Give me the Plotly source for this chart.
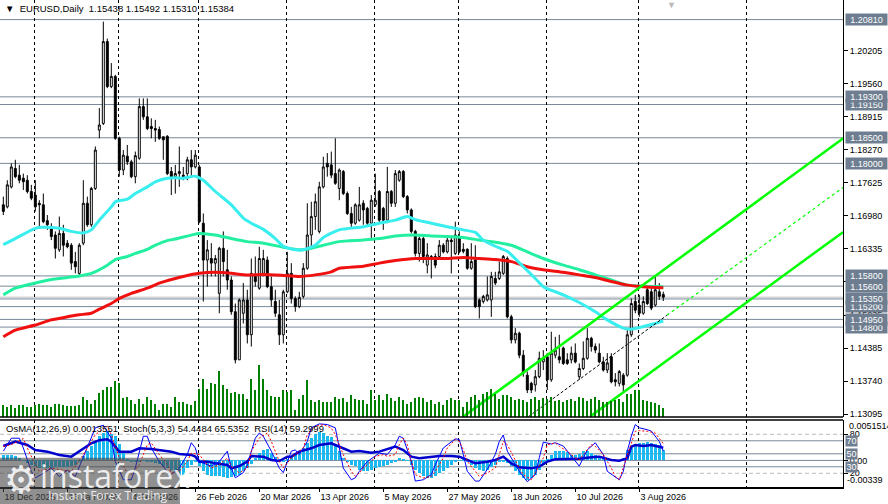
import pandas as pd
import plotly.graph_objects as go

# daily bars (days without a bar are left out)
dates = pd.bdate_range("2025-12-18", "2026-08-11", freq="C",
                       holidays=["2025-12-25", "2026-01-01", "2026-04-03"])
bars = list(range(len(dates)))

opens = [
    1.1719, 1.1715, 1.1754, 1.1790, 1.1777, 1.1771, 1.1767, 1.1745, 1.1738, 1.1722,
    1.1719, 1.1688, 1.1673, 1.1660, 1.1631, 1.1663, 1.1644, 1.1640, 1.1608, 1.1585,
    1.1644, 1.1722, 1.1680, 1.1751, 1.1865, 1.1878, 1.2038, 1.1950, 1.1970, 1.1849,
    1.1787, 1.1814, 1.1803, 1.1774, 1.1810, 1.1911, 1.1891, 1.1872, 1.1868, 1.1866,
    1.1852, 1.1853, 1.1784, 1.1774, 1.1780, 1.1777, 1.1780, 1.1807, 1.1793, 1.1793,
    1.1683, 1.1611, 1.1614, 1.1605, 1.1546, 1.1634, 1.1592, 1.1572, 1.1510, 1.1416,
    1.1507, 1.1533, 1.1465, 1.1579, 1.1556, 1.1585, 1.1611, 1.1559, 1.1530, 1.1504,
    1.1465, 1.1549, 1.1585, 1.1536, 1.1520, 1.1540, 1.1595, 1.1660, 1.1696, 1.1667,
    1.1754, 1.1800, 1.1797, 1.1780, 1.1751, 1.1784, 1.1741, 1.1702, 1.1683, 1.1689,
    1.1722, 1.1712, 1.1683, 1.1719, 1.1745, 1.1712, 1.1689, 1.1745, 1.1722, 1.1767,
    1.1784, 1.1735, 1.1709, 1.1667, 1.1624, 1.1653, 1.1601, 1.1618, 1.1618, 1.1618,
    1.1640, 1.1627, 1.1650, 1.1624, 1.1657, 1.1632, 1.1632, 1.1595, 1.1611, 1.1533,
    1.1530, 1.1533, 1.1533, 1.1575, 1.1575, 1.1585, 1.1614, 1.1500, 1.1455, 1.1468,
    1.1425, 1.1386, 1.1370, 1.1367, 1.1383, 1.1412, 1.1422, 1.1377, 1.1425, 1.1422,
    1.1439, 1.1416, 1.1416, 1.1429, 1.1383, 1.1399, 1.1419, 1.1458, 1.1442, 1.1429,
    1.1412, 1.1396, 1.1422, 1.1377, 1.1370, 1.1386, 1.1386, 1.1465, 1.1530, 1.1523,
    1.1507, 1.1553, 1.1549, 1.1523, 1.1549, 1.15438,
]
highs = [
    1.1735, 1.1767, 1.1800, 1.1807, 1.1797, 1.1780, 1.1777, 1.1758, 1.1767, 1.1728,
    1.1741, 1.1699, 1.1683, 1.1667, 1.1696, 1.1680, 1.1650, 1.1644, 1.1627, 1.1644,
    1.1767, 1.1735, 1.1754, 1.1833, 1.1908, 1.2077, 1.2044, 1.1996, 1.1973, 1.1852,
    1.1826, 1.1836, 1.1807, 1.1823, 1.1927, 1.1927, 1.1927, 1.1888, 1.1885, 1.1872,
    1.1852, 1.1855, 1.1793, 1.1797, 1.1833, 1.1793, 1.1813, 1.1826, 1.1826, 1.1797,
    1.1702, 1.1650, 1.1644, 1.1621, 1.1637, 1.1667, 1.1631, 1.1579, 1.1526, 1.1536,
    1.1566, 1.1553, 1.1614, 1.1618, 1.1637, 1.1631, 1.1618, 1.1579, 1.1553, 1.1533,
    1.1553, 1.1627, 1.1605, 1.1540, 1.1549, 1.1605, 1.1722, 1.1725, 1.1741, 1.1764,
    1.1813, 1.1820, 1.1823, 1.1849, 1.1790, 1.1787, 1.1745, 1.1715, 1.1722, 1.1754,
    1.1728, 1.1715, 1.1738, 1.1780, 1.1748, 1.1715, 1.1793, 1.1748, 1.1787, 1.1787,
    1.1787, 1.1738, 1.1712, 1.1670, 1.1657, 1.1657, 1.1644, 1.1621, 1.1624, 1.1650,
    1.1644, 1.1657, 1.1657, 1.1686, 1.1667, 1.1644, 1.1634, 1.1644, 1.1640, 1.1536,
    1.1543, 1.1579, 1.1588, 1.1588, 1.1608, 1.1621, 1.1618, 1.1504, 1.1478, 1.1471,
    1.1435, 1.1393, 1.1373, 1.1396, 1.1432, 1.1435, 1.1429, 1.1471, 1.1461, 1.1465,
    1.1442, 1.1429, 1.1442, 1.1448, 1.1409, 1.1452, 1.1478, 1.1461, 1.1448, 1.1448,
    1.1422, 1.1429, 1.1429, 1.1390, 1.1396, 1.1390, 1.1474, 1.1536, 1.1543, 1.1543,
    1.1540, 1.1562, 1.1556, 1.1579, 1.1566, 1.15492,
]
lows = [
    1.1699, 1.1712, 1.1751, 1.1771, 1.1761, 1.1748, 1.1741, 1.1728, 1.1706, 1.1676,
    1.1683, 1.1670, 1.1650, 1.1614, 1.1627, 1.1618, 1.1634, 1.1592, 1.1585, 1.1579,
    1.1640, 1.1676, 1.1676, 1.1748, 1.1849, 1.1875, 1.1947, 1.1947, 1.1846, 1.1774,
    1.1777, 1.1797, 1.1771, 1.1761, 1.1807, 1.1885, 1.1865, 1.1849, 1.1842, 1.1846,
    1.1807, 1.1777, 1.1738, 1.1741, 1.1754, 1.1767, 1.1767, 1.1774, 1.1790, 1.1683,
    1.1530, 1.1559, 1.1579, 1.1579, 1.1507, 1.1579, 1.1553, 1.1504, 1.1409, 1.1416,
    1.1487, 1.1448, 1.1442, 1.1559, 1.1553, 1.1579, 1.1556, 1.1520, 1.1500, 1.1445,
    1.1448, 1.1546, 1.1526, 1.1510, 1.1517, 1.1536, 1.1592, 1.1637, 1.1670, 1.1663,
    1.1751, 1.1774, 1.1771, 1.1758, 1.1728, 1.1738, 1.1699, 1.1676, 1.1680, 1.1686,
    1.1680, 1.1676, 1.1653, 1.1715, 1.1683, 1.1670, 1.1683, 1.1715, 1.1715, 1.1764,
    1.1732, 1.1702, 1.1663, 1.1618, 1.1608, 1.1605, 1.1585, 1.1575, 1.1595, 1.1614,
    1.1624, 1.1624, 1.1585, 1.1621, 1.1624, 1.1624, 1.1592, 1.1592, 1.1517, 1.1497,
    1.1526, 1.1530, 1.1500, 1.1562, 1.1572, 1.1582, 1.1497, 1.1448, 1.1448, 1.1419,
    1.1383, 1.1351, 1.1351, 1.1354, 1.1380, 1.1396, 1.1357, 1.1373, 1.1419, 1.1409,
    1.1406, 1.1406, 1.1409, 1.1409, 1.1377, 1.1396, 1.1416, 1.1432, 1.1429, 1.1409,
    1.1393, 1.1390, 1.1370, 1.1364, 1.1364, 1.1354, 1.1383, 1.1461, 1.1507, 1.1500,
    1.1504, 1.1523, 1.1513, 1.1520, 1.1533, 1.15310,
]
closes = [
    1.1706, 1.1758, 1.1793, 1.1774, 1.1767, 1.1764, 1.1745, 1.1732, 1.1715, 1.1719,
    1.1686, 1.1680, 1.1657, 1.1634, 1.1663, 1.1640, 1.1637, 1.1605, 1.1598, 1.1640,
    1.1722, 1.1680, 1.1751, 1.1826, 1.1875, 1.2038, 1.1950, 1.1970, 1.1849, 1.1787,
    1.1816, 1.1803, 1.1774, 1.1815, 1.1911, 1.1891, 1.1868, 1.1868, 1.1865, 1.1849,
    1.1846, 1.1780, 1.1774, 1.1780, 1.1784, 1.1774, 1.1807, 1.1793, 1.1816, 1.1686,
    1.1611, 1.1631, 1.1605, 1.1614, 1.1634, 1.1608, 1.1572, 1.1510, 1.1416, 1.1533,
    1.1533, 1.1465, 1.1585, 1.1569, 1.1614, 1.1614, 1.1559, 1.1533, 1.1507, 1.1465,
    1.1549, 1.1585, 1.1536, 1.1520, 1.1538, 1.1595, 1.1660, 1.1696, 1.1725, 1.1754,
    1.1793, 1.1793, 1.1777, 1.1761, 1.1787, 1.1741, 1.1702, 1.1683, 1.1719, 1.1719,
    1.1709, 1.1683, 1.1728, 1.1728, 1.1689, 1.1689, 1.1745, 1.1722, 1.1780, 1.1784,
    1.1735, 1.1709, 1.1667, 1.1624, 1.1653, 1.1618, 1.1621, 1.1614, 1.1601, 1.1640,
    1.1627, 1.1650, 1.1647, 1.1660, 1.1627, 1.1628, 1.1595, 1.1608, 1.1520, 1.1520,
    1.1540, 1.1543, 1.1579, 1.1566, 1.1588, 1.1618, 1.1500, 1.1455, 1.1468, 1.1425,
    1.1390, 1.1357, 1.1357, 1.1383, 1.1419, 1.1419, 1.1377, 1.1429, 1.1435, 1.1416,
    1.1409, 1.1409, 1.1429, 1.1412, 1.1399, 1.1419, 1.1458, 1.1442, 1.1435, 1.1412,
    1.1396, 1.1410, 1.1373, 1.1373, 1.1393, 1.1367, 1.1465, 1.1526, 1.1513, 1.1507,
    1.1530, 1.1526, 1.1517, 1.1553, 1.1540, 1.15384,
]
volumes = [
    3500, 3000, 3500, 2800, 3500, 3500, 3000, 3000, 3500, 4000,
    3500, 3500, 3000, 4000, 3800, 3500, 3200, 3200, 3200, 3500,
    6000, 5000, 4000, 5000, 7200, 8000, 9000, 9000, 10800, 10200,
    5800, 6000, 5200, 4000, 5500, 4000, 6000, 5000, 4000, 2000,
    4000, 4000, 3000, 6000, 4500, 4500, 4000, 3500, 4800, 8500,
    11500, 8500, 10200, 10000, 13800, 9500, 8500, 7200, 7500, 7000,
    6800, 5500, 11500, 8000, 15500, 11500, 8000, 6200, 6000, 6000,
    8200, 7500, 8000, 2000, 5500, 6500, 11200, 5000, 4500, 5200,
    4500, 4500, 4500, 6000, 5500, 5800, 4500, 6500, 5500, 5000,
    5200, 3800, 8200, 5200, 6500, 5200, 7000, 5800, 4800, 6000,
    5000, 4000, 4500, 5800, 6000, 5800, 4500, 5000, 4000, 4500,
    3500, 5000, 5800, 5000, 5200, 3000, 4500, 6000, 6500, 5000,
    7000, 7500, 8500, 7000, 5500, 6500, 6500, 6000, 5000, 5500,
    5000, 4500, 5500, 6000, 5000, 5800, 5500, 6000, 4800, 5200,
    4500, 5000, 5500, 4800, 6000, 5800, 4800, 5500, 6000, 5200,
    4500, 4500, 4800, 5000, 5500, 4500, 7000, 7000, 8000, 8000,
    5200, 4800, 4500, 4200, 3500, 2800,
]

# moving averages, read at sample bars
ma_fast_x = [0, 3, 8, 10, 14, 17, 20, 22, 24, 27, 28, 31, 33, 36, 38, 41, 43, 45, 48, 50,
             53, 57, 60, 62, 65, 68, 70, 73, 75, 78, 80, 84, 90, 94, 98, 101, 103, 107, 111, 115,
             118, 120, 123, 126, 130, 133, 135, 140, 144, 148, 151, 155, 157, 160, 162, 165]
ma_fast = [1.1641, 1.1653, 1.1673, 1.1675, 1.1673, 1.1667, 1.1664, 1.1670, 1.1689, 1.1715,
           1.1725, 1.1730, 1.1741, 1.1754, 1.1764, 1.1771, 1.1772, 1.1771, 1.1775, 1.1767,
           1.1745, 1.1719, 1.1693, 1.1683, 1.1671, 1.1653, 1.1638, 1.1631, 1.1631, 1.1640,
           1.1655, 1.1670, 1.1676, 1.1683, 1.1689, 1.1696, 1.1690, 1.1683, 1.1676, 1.1670,
           1.1665, 1.1650, 1.1638, 1.1628, 1.1598, 1.1575, 1.1559, 1.1543, 1.1528, 1.1510,
           1.1494, 1.1478, 1.1476, 1.1481, 1.1485, 1.1492]
ma_mid_x = [0, 3, 8, 12, 16, 19, 22, 26, 28, 31, 33, 36, 38, 41, 43, 49, 53, 57, 61, 65,
            70, 74, 77, 80, 84, 90, 94, 98, 103, 107, 111, 115, 119, 123, 127, 131, 135, 140, 144, 148,
            152, 156, 160, 165]
ma_mid = [1.1543, 1.1556, 1.1566, 1.1573, 1.1577, 1.1580, 1.1585, 1.1601, 1.1612, 1.1618,
          1.1624, 1.1632, 1.1640, 1.1649, 1.1652, 1.1663, 1.1660, 1.1653, 1.1647, 1.1644,
          1.1636, 1.1631, 1.1634, 1.1640, 1.1647, 1.1650, 1.1653, 1.1658, 1.1660, 1.1658,
          1.1657, 1.1655, 1.1650, 1.1646, 1.1640, 1.1627, 1.1614, 1.1601, 1.1592, 1.1582,
          1.1572, 1.1562, 1.1560, 1.1559]
ma_slow_x = [0, 3, 8, 12, 16, 19, 22, 24, 27, 29, 32, 36, 39, 43, 45, 49, 53, 57, 61, 65,
             70, 74, 78, 82, 84, 90, 94, 98, 103, 107, 111, 115, 119, 123, 127, 131, 135, 140, 144, 148,
             152, 156, 160, 165]
ma_slow = [1.1461, 1.1474, 1.1484, 1.1494, 1.1500, 1.1504, 1.1507, 1.1515, 1.1526, 1.1536,
           1.1546, 1.1556, 1.1566, 1.1575, 1.1579, 1.1585, 1.1587, 1.1585, 1.1582, 1.1583,
           1.1581, 1.1579, 1.1582, 1.1588, 1.1595, 1.1599, 1.1605, 1.1610, 1.1614, 1.1614,
           1.1614, 1.1616, 1.1614, 1.1612, 1.1608, 1.1598, 1.1592, 1.1587, 1.1582, 1.1577,
           1.1569, 1.1562, 1.1559, 1.1557]

# channel lines (trend-line anchor points)
chan_upper_x, chan_upper = [115, 210], [1.1305, 1.1849]
chan_lower_x, chan_lower = [146.7, 210], [1.1305, 1.1666]
chan_mid_x, chan_mid = [131.3, 165.9], [1.1305, 1.1503]
chan_mid_ext_x, chan_mid_ext = [165.9, 210], [1.1503, 1.1753]

# indicator window
osma = [
    0.00075, 0.00067, 0.00067, 0.00054, 0.00032, -0.00002, -0.00032, -0.00054, -0.00075, -0.00097,
    -0.00097, -0.00097, -0.00097, -0.00088, -0.00088, -0.00088, -0.00088, -0.00075, -0.00054, -0.00011,
    0.00054, 0.00119, 0.00183, 0.00248, 0.00313, 0.00356, 0.00377, 0.00334, 0.00313, 0.00205,
    0.00097, 0.00011, -0.00011, -0.00019, -0.00011, -0.00002, -0.00011, -0.00019, -0.00032, -0.00045,
    -0.00075, -0.00097, -0.00119, -0.00140, -0.00205, -0.00192, -0.00097, -0.00054, -0.00019, -0.00075,
    -0.00140, -0.00183, -0.00205, -0.00205, -0.00205, -0.00218, -0.00226, -0.00218, -0.00205, -0.00183,
    -0.00140, -0.00097, -0.00045, 0.00032, 0.00097, 0.00140, 0.00153, 0.00097, 0.00041, 0.00011,
    -0.00011, 0.00011, 0.00054, 0.00097, 0.00119, 0.00162, 0.00226, 0.00291, 0.00343, 0.00369,
    0.00356, 0.00313, 0.00300, 0.00205, 0.00119, 0.00032, -0.00011, -0.00054, -0.00075, -0.00119,
    -0.00140, -0.00140, -0.00119, -0.00097, -0.00088, -0.00075, -0.00054, -0.00032, -0.00011, 0.00032,
    0.00024, -0.00002, -0.00054, -0.00119, -0.00162, -0.00205, -0.00226, -0.00226, -0.00205, -0.00162,
    -0.00140, -0.00097, -0.00054, -0.00011, -0.00002, 0.00011, -0.00011, -0.00054, -0.00097, -0.00119,
    -0.00132, -0.00119, -0.00088, -0.00054, -0.00019, -0.00011, -0.00032, -0.00075, -0.00140, -0.00183,
    -0.00226, -0.00248, -0.00226, -0.00183, -0.00119, -0.00054, 0.00011, 0.00075, 0.00119, 0.00127,
    0.00119, 0.00110, 0.00075, 0.00067, 0.00084, 0.00119, 0.00119, 0.00097, 0.00067, 0.00041,
    0.00032, 0.00011, 0.00011, -0.00002, -0.00002, 0.00032, 0.00140, 0.00183, 0.00205, 0.00226,
    0.00226, 0.00239, 0.00226, 0.00213, 0.00196, 0.00136,
]
rsi_x = [0, 2, 3, 6, 8, 11, 14, 17, 19, 21, 22, 24, 26, 27, 29, 32, 34, 37, 39, 42,
         44, 47, 48, 49, 51, 53, 56, 57, 59, 61, 62, 65, 67, 69, 71, 72, 74, 77, 79, 82,
         83, 85, 87, 89, 92, 94, 96, 98, 100, 102, 104, 107, 109, 112, 114, 116, 118, 121, 123, 125,
         127, 129, 132, 134, 136, 138, 141, 144, 147, 149, 152, 154, 156, 157, 158, 160, 162, 164, 165]
rsi = [62, 66.1, 68.7, 63.5, 55.8, 53.3, 48.2, 45.6, 53.3, 61, 66.1, 71, 72.3, 68.7, 53.3, 53.3,
       58.4, 57.4, 55.8, 53.3, 49.7, 48.2, 45.6, 37.9, 37.9, 35.3, 32.8, 27.6, 31.2, 37.9,
       46.6, 45.6, 40.5, 38.9, 45.6, 45.6, 53.3, 58.4, 63.5, 66.1, 63.5, 58.4, 53.3, 54.3,
       51.7, 53.3, 56.9, 61, 55.8, 45.6, 43, 44.6, 46.6, 46.6, 45.6, 40.5, 35.3, 37.9, 40.5,
       45.6, 35.3, 29.2, 27.6, 30.2, 37.9, 41.5, 41.5, 42.5, 44.6, 45.6, 40.5, 39.4, 43, 61,
       63.5, 62, 63.5, 61, 59.3]
stoch_x = [0, 2, 4, 5, 7, 8, 10, 12, 14, 16, 18, 20, 21, 23, 25, 27, 28, 30, 32, 33,
           35, 36, 37, 39, 41, 42, 44, 46, 47, 48, 49, 51, 52, 54, 56, 57, 58, 60, 61, 63,
           64, 65, 67, 69, 70, 72, 73, 74, 76, 77, 79, 81, 83, 85, 87, 88, 89, 91, 93, 94,
           96, 98, 99, 100, 102, 103, 105, 107, 108, 110, 113, 114, 115, 116, 118, 119, 121, 123, 124, 125,
           126, 128, 129, 131, 133, 134, 135, 137, 138, 140, 141, 143, 144, 146, 148, 150, 151, 154, 155, 156,
           157, 158, 159, 161, 162, 164, 165]
stoch_main = [54, 74, 74, 59, 23, 13, 20, 28, 15, 25, 15, 45, 59, 90, 94, 74, 38, 10, 10, 28,
              77, 77, 59, 38, 23, 18, 28, 49, 67, 59, 38, 33, 31, 38, 54, 28, 13, 21, 33, 74,
              82, 77, 54, 28, 21, 54, 56, 49, 69, 90, 96, 95, 90, 28, 10, 13, 23, 38, 46, 51,
              49, 64, 77, 74, 38, 8, 10, 18, 33, 59, 73, 72, 49, 23, 8, 8, 26, 49, 69, 79,
              54, 33, 23, 7, 18, 44, 68, 65, 67, 62, 54, 38, 31, 56, 67, 49, 23, 10, 23, 54,
              77, 95, 90, 87, 85, 69, 54.4]
signal_x = [0, 2, 5, 6, 8, 9, 12, 14, 17, 20, 23, 26, 27, 29, 31, 32, 34, 36, 37, 39,
            41, 42, 44, 46, 47, 49, 51, 52, 54, 56, 57, 59, 61, 62, 64, 66, 67, 69, 70, 72,
            73, 75, 76, 78, 80, 82, 83, 85, 87, 88, 89, 90, 92, 93, 95, 96, 98, 99, 100, 101,
            102, 103, 105, 107, 108, 110, 111, 113, 114, 115, 116, 118, 119, 121, 123, 124, 125, 126, 128, 129,
            130, 132, 133, 135, 136, 138, 139, 141, 143, 144, 145, 147, 148, 150, 152, 153, 154, 155, 157, 158,
            159, 161, 163, 164, 165]
stoch_signal = [61.5, 64, 73.3, 59, 33.3, 23, 28.2, 25.6, 23, 48.7, 79.4, 92.3, 79.4, 43.5, 20.5, 17.9, 33.3, 64, 66.6, 48.7,
                33.3, 20.5, 23, 38.4, 51.2, 48.7, 33.3, 28.2, 33.3, 43.5, 30.7, 20.5, 28.2, 53.8, 74.3, 82, 69.2, 38.4, 28.2, 43.5,
                48.7, 59, 79.4, 92.3, 94.8, 89.7, 79.4, 48.7, 23, 15.3, 20.5, 28.2, 38.4, 46.1, 48.7, 46.1, 48.7, 64, 74.3, 64,
                38.4, 17.9, 12.8, 15.3, 23, 43.5, 59, 71.7, 69.2, 56.4, 38.4, 23, 15.3, 20.5, 28.2, 48.7, 69.2, 64, 38.4, 28.2,
                17.9, 10.2, 20.5, 43.5, 64, 66.6, 61.5, 53.8, 43.5, 41, 48.7, 64, 61.5, 48.7, 28.2, 15.3, 10.2, 28.2, 64, 84.6,
                85.6, 84.6, 82, 74.3, 65.5]

# axis labels
price_ticks = [1.20205, 1.19560, 1.18915, 1.18270, 1.17625, 1.16980, 1.16335,
               1.15685, 1.15035, 1.14385, 1.13740, 1.13095]
level_lines = [1.14800, 1.14950, 1.15200, 1.15350, 1.15600, 1.15800,
               1.18000, 1.18500, 1.19150, 1.19300, 1.20810]
bid_price = 1.15384
label_dates = ["2025-12-18", "2026-01-13", "2026-02-04", "2026-02-26", "2026-03-20", "2026-04-13",
               "2026-05-05", "2026-05-27", "2026-06-18", "2026-07-10", "2026-08-03"]
rsi_levels = [70, 50, 30]
stoch_levels = [80, 20]

date_pos = [dates.get_loc(pd.Timestamp(d)) for d in label_dates]
date_text = [f"{pd.Timestamp(d).day} {pd.Timestamp(d).strftime('%b %Y')}" for d in label_dates]

SLATE = "#778899"
LABEL_BG = "#6E7E90"
FONT = "Liberation Sans, Arial, sans-serif"
WM = "rgba(255,255,255,0.85)"

fig = go.Figure()

fig.add_trace(go.Bar(x=bars, y=volumes, yaxis="y4", width=0.25,
                     marker=dict(color="#008000", line_width=0)))
fig.add_trace(go.Candlestick(
    x=bars, open=opens, high=highs, low=lows, close=closes,
    increasing=dict(line=dict(color="black", width=1), fillcolor="white"),
    decreasing=dict(line=dict(color="black", width=1), fillcolor="black"),
    whiskerwidth=0, yaxis="y"))
for xs, ys, col in [(ma_mid_x, ma_mid, "#22F0A0"), (ma_slow_x, ma_slow, "#F01010"),
                    (ma_fast_x, ma_fast, "#38EEEE")]:
    fig.add_trace(go.Scatter(x=xs, y=ys, mode="lines", yaxis="y",
                             line=dict(color=col, width=3, shape="spline", smoothing=0.6)))
for xs, ys in [(chan_upper_x, chan_upper), (chan_lower_x, chan_lower)]:
    fig.add_trace(go.Scatter(x=xs, y=ys, mode="lines", yaxis="y",
                             line=dict(color="#00FF00", width=2.5)))
fig.add_trace(go.Scatter(x=chan_mid_x, y=chan_mid, mode="lines", yaxis="y",
                         line=dict(color="black", width=1, dash="3px,2px")))
fig.add_trace(go.Scatter(x=chan_mid_ext_x, y=chan_mid_ext, mode="lines", yaxis="y",
                         line=dict(color="#00FF00", width=1.2, dash="3px,3px")))

fig.add_trace(go.Bar(x=bars, y=osma, yaxis="y2", width=0.7,
                     marker=dict(color="#1CB8F0", line_width=0)))
fig.add_trace(go.Scatter(x=rsi_x, y=rsi, mode="lines", yaxis="y3",
                         line=dict(color="#0000CD", width=2.5)))
fig.add_trace(go.Scatter(x=stoch_x, y=stoch_main, mode="lines", yaxis="y3",
                         line=dict(color="#0000FF", width=1)))
fig.add_trace(go.Scatter(x=signal_x, y=stoch_signal, mode="lines", yaxis="y3",
                         line=dict(color="#FF0000", width=1, dash="2px,2px")))

shapes = []
for p in level_lines:
    shapes.append(dict(type="line", xref="paper", x0=0, x1=1, yref="y", y0=p, y1=p,
                       line=dict(color=SLATE, width=1), layer="below"))
shapes.append(dict(type="line", xref="paper", x0=0, x1=1, yref="y", y0=bid_price, y1=bid_price,
                   line=dict(color="#C0C0C0", width=1), layer="below"))
shapes.append(dict(type="line", xref="paper", x0=0, x1=1, yref="y domain", y0=0, y1=0,
                   line=dict(color="black", width=1.5)))
shapes.append(dict(type="line", xref="paper", x0=0, x1=1, yref="y2 domain", y0=1, y1=1,
                   line=dict(color="black", width=1.5)))
for v in rsi_levels:
    shapes.append(dict(type="line", xref="paper", x0=0, x1=1, yref="y3", y0=v, y1=v,
                       line=dict(color=SLATE, width=1), layer="below"))
shapes.append(dict(type="line", xref="paper", x0=0, x1=1, yref="y2", y0=0, y1=0,
                   line=dict(color=SLATE, width=1), layer="below"))
for v in stoch_levels:
    shapes.append(dict(type="line", xref="paper", x0=0, x1=1, yref="y3", y0=v, y1=v,
                       line=dict(color="#BBBBBB", width=1, dash="4px,3px"), layer="below"))
# watermark panel
shapes.append(dict(type="rect", xref="paper", yref="paper", x0=0, x1=0.2135, y0=-0.035, y1=0.06,
                   fillcolor="rgba(70,70,70,0.6)", line_width=0, layer="above"))

annotations = [
    dict(xref="paper", yref="paper", x=0.004, y=1, xanchor="left", yanchor="top", yshift=-1,
         text="▼  EURUSD,Daily  1.15438 1.15492 1.15310 1.15384", showarrow=False,
         font=dict(family=FONT, size=9.5, color="black")),
    dict(xref="paper", yref="paper", x=0.005, y=0.121, xanchor="left", yanchor="middle",
         text="OsMA(12,26,9) 0.0013551  Stoch(5,3,3) 54.4484 65.5352  RSI(14) 59.2999",
         showarrow=False, font=dict(family=FONT, size=9.5, color="black")),
    dict(xref="paper", yref="paper", x=0.797, y=1, xanchor="center", yanchor="top", yshift=2,
         text="▼", showarrow=False, font=dict(size=9, color="#B8B8B8")),
    dict(xref="paper", yref="paper", x=1, y=0.1253, xanchor="left", yanchor="middle", xshift=4,
         text="0.0051514", showarrow=False, font=dict(family=FONT, size=9, color="black")),
    dict(xref="paper", yref="paper", x=1, y=0.0144, xanchor="left", yanchor="middle", xshift=2,
         text="-0.00339", showarrow=False, font=dict(family=FONT, size=9, color="black")),
    dict(xref="paper", yref="paper", x=0, y=0.014, xanchor="left", yanchor="middle", xshift=2,
         text="⚙", showarrow=False, font=dict(family="DejaVu Sans", size=38, color=WM)),
    dict(xref="paper", yref="paper", x=0.137, y=0.024, xanchor="center", yanchor="middle",
         text="instaforex", showarrow=False, font=dict(family="Open Sans", size=32, color=WM)),
    dict(xref="paper", yref="paper", x=0.128, y=-0.018, xanchor="center", yanchor="middle",
         text="Instant Forex Trading", showarrow=False, font=dict(family="Open Sans", size=12, color=WM)),
]
for p in level_lines:
    annotations.append(dict(xref="paper", x=1, xanchor="left", xshift=2, yref="y", y=p,
                            text=f"{p:.5f}", showarrow=False, bgcolor=LABEL_BG, width=41, height=11,
                            borderpad=0, font=dict(family=FONT, size=9, color="white")))
for v in rsi_levels:
    annotations.append(dict(xref="paper", x=1, xanchor="left", xshift=2, yref="y3", y=v,
                            text=str(v), showarrow=False, bgcolor=LABEL_BG, width=11, height=10,
                            borderpad=0, font=dict(family=FONT, size=9, color="white")))

axis_common = dict(showgrid=False, zeroline=False, ticks="outside", ticklen=4, tickcolor="black",
                   showline=True, linecolor="black", linewidth=1, fixedrange=True,
                   tickfont=dict(family=FONT, size=9, color="black"))

fig.update_layout(
    width=888, height=504, margin=dict(l=0, r=45, t=0, b=17),
    paper_bgcolor="white", plot_bgcolor="white", showlegend=False,
    bargap=0, barmode="overlay", hovermode=False,
    font=dict(family=FONT, size=9, color="black"),
    xaxis=dict(range=[-0.83, 209.93], anchor="y2", tickmode="array", tickvals=date_pos, ticktext=date_text,
               ticks="outside", ticklen=3, tickcolor="black", ticklabelposition="outside right",
               showgrid=False, zeroline=False, showline=True, linecolor="black", linewidth=1.5,
               tickfont=dict(family=FONT, size=9, color="black"), fixedrange=True,
               rangeslider=dict(visible=False),
               minor=dict(tickmode="array", tickvals=[7.9, 28.9, 48.9, 70.9, 92.9, 113.9, 135.9, 158.9, 185.9],
                          showgrid=True, gridcolor="black", gridwidth=1, griddash="3px,3px", ticks="")),
    yaxis=dict(domain=[0.1437, 1], range=[1.13042, 1.21193], side="right", anchor="x",
               tickmode="array", tickvals=price_ticks, ticktext=[f"{v:.5f}" for v in price_ticks],
               **axis_common),
    yaxis2=dict(domain=[0, 0.1376], range=[-0.00342, 0.0052], side="right", anchor="x",
                tickmode="array", tickvals=[0], ticktext=["0.00"], **axis_common),
    yaxis3=dict(overlaying="y2", range=[-1.1, 102], side="right", anchor="x",
                tickmode="array", tickvals=stoch_levels, ticktext=[str(v) for v in stoch_levels],
                **axis_common),
    yaxis4=dict(overlaying="y", range=[0, 125100], visible=False, fixedrange=True),
    shapes=shapes, annotations=annotations,
)

fig.write_html("out.html", config={"displayModeBar": False},
               post_script="document.body.style.margin='0px';")
